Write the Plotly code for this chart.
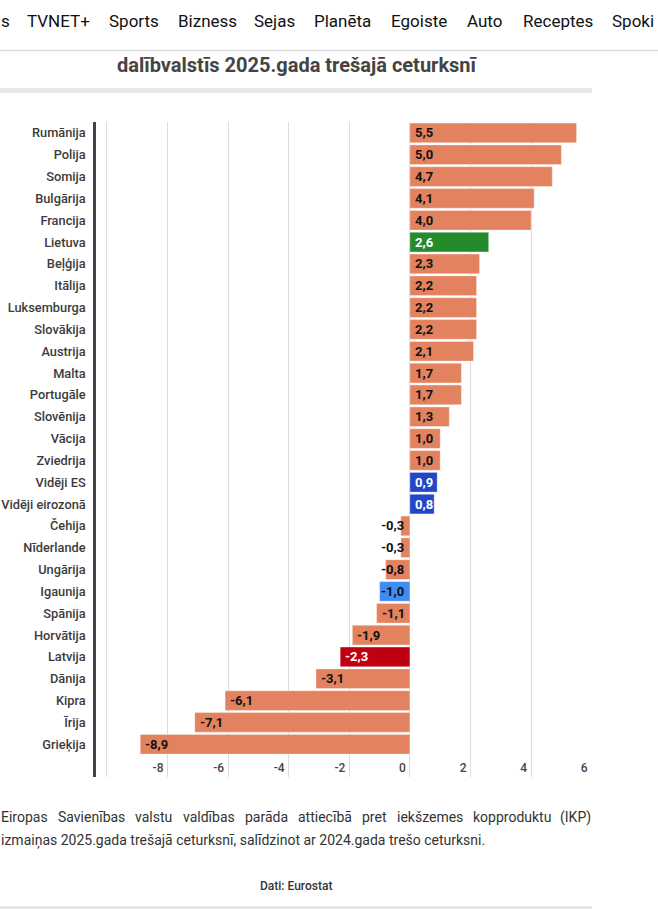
import plotly.graph_objects as go

# ---------------- data ----------------
countries = [
    "Rumānija", "Polija", "Somija", "Bulgārija", "Francija", "Lietuva", "Beļģija",
    "Itālija", "Luksemburga", "Slovākija", "Austrija", "Malta", "Portugāle",
    "Slovēnija", "Vācija", "Zviedrija", "Vidēji ES", "Vidēji eirozonā", "Čehija",
    "Nīderlande", "Ungārija", "Igaunija", "Spānija", "Horvātija", "Latvija",
    "Dānija", "Kipra", "Īrija", "Grieķija",
]
values = [
    5.5, 5.0, 4.7, 4.1, 4.0, 2.6, 2.3,
    2.2, 2.2, 2.2, 2.1, 1.7, 1.7,
    1.3, 1.0, 1.0, 0.9, 0.8, -0.3,
    -0.3, -0.8, -1.0, -1.1, -1.9, -2.3,
    -3.1, -6.1, -7.1, -8.9,
]
x_tick_values = [-10, -8, -6, -4, -2, 0, 2, 4, 6]
x_tick_labels = ["", "-8", "-6", "-4", "-2", "0", "2", "4", "6"]

nav_items = ["s", "TVNET+", "Sports", "Bizness", "Sejas", "Planēta", "Egoiste",
             "Auto", "Receptes", "Spoki"]
title_text = "dalībvalstīs 2025.gada trešajā ceturksnī"
caption_line1 = ("Eiropas Savienības valstu valdības parāda attiecībā pret "
                 "iekšzemes kopproduktu (IKP)")
caption_line2 = ("izmaiņas 2025.gada trešajā ceturksnī, salīdzinot ar "
                 "2024.gada trešo ceturksni.")
source_text = "Dati: Eurostat"

# ---------------- styles / layout ----------------
W, H = 658, 909
ML, MR, MT, MB = 96, 66, 122, 132
PW = W - ML - MR
PH = H - MT - MB
FONT = "Roboto"

BASE = "#E3825F"
highlight = {
    "Lietuva": "#238B2B",
    "Vidēji ES": "#2146C7",
    "Vidēji eirozonā": "#2146C7",
    "Igaunija": "#3F8CF2",
    "Latvija": "#BF0011",
}
white_text = {"Lietuva", "Vidēji ES", "Vidēji eirozonā", "Latvija"}
nav_x = [0, 26, 108, 177, 253, 313, 390, 466, 522, 611]


def px(x):
    return (x - ML) / PW


def py(y):
    return (H - MB - y) / PH


colors = [highlight.get(c, BASE) for c in countries]

fig = go.Figure(
    go.Bar(
        x=values,
        y=countries,
        orientation="h",
        marker=dict(color=colors, line=dict(color="rgba(255,255,255,0.35)", width=1)),
        hoverinfo="skip",
    )
)

# value labels
for c, v in zip(countries, values):
    txt = f"{v:.1f}".replace(".", ",")
    col = "#ffffff" if c in white_text else "#111111"
    if v >= 0:
        x, anchor, shift = 0, "left", 3
    elif v < -1.05:
        x, anchor, shift = v, "left", 3
    else:
        x, anchor, shift = 0, "right", -4
    fig.add_annotation(
        x=x, y=c, text=txt, xanchor=anchor, yanchor="middle", xshift=shift,
        showarrow=False,
        font=dict(family=FONT, size=13, color=col, weight="bold"),
    )

fig.update_xaxes(
    range=[-10.36, 6.01],
    tickvals=x_tick_values,
    ticktext=x_tick_labels,
    showgrid=True,
    gridcolor="#dcdcdc",
    gridwidth=1,
    zeroline=False,
    showline=False,
    ticks="",
    ticklabelposition="inside left",
    ticklabelshift=-4,
    ticklabelstandoff=-3,
    tickfont=dict(family=FONT, size=12, color="#444444", weight=500),
    automargin=False,
    fixedrange=True,
)
fig.update_yaxes(
    type="category",
    autorange=False,
    range=[len(countries) + 0.5, -0.5],
    showgrid=False,
    showline=True,
    linecolor="#444444",
    linewidth=2.5,
    ticks="",
    ticklabelstandoff=5,
    tickfont=dict(family=FONT, size=12.8, color="#3c3c3c", weight=500),
    automargin=False,
    fixedrange=True,
)

# --- page chrome ---
shapes = [
    dict(type="line", xref="paper", yref="paper", x0=px(0), x1=px(W),
         y0=py(50.5), y1=py(50.5), line=dict(color="#dddddd", width=1.5)),
    dict(type="rect", xref="paper", yref="paper", x0=px(0), x1=px(592),
         y0=py(88), y1=py(93), fillcolor="#e8e8e8", line=dict(width=0)),
    dict(type="line", xref="paper", yref="paper", x0=px(0), x1=px(592),
         y0=py(907.5), y1=py(907.5), line=dict(color="#dddddd", width=2)),
]
fig.update_layout(shapes=shapes)

for word, xpos in zip(nav_items, nav_x):
    fig.add_annotation(
        xref="paper", yref="paper", x=px(xpos), y=py(21), text=word,
        xanchor="left", yanchor="middle", showarrow=False, borderpad=0,
        font=dict(family=FONT, size=17, color="#111111"),
    )

fig.add_annotation(
    xref="paper", yref="paper", x=px(297), y=py(65), text=title_text,
    xanchor="center", yanchor="middle", showarrow=False,
    font=dict(family=FONT, size=20, color="#444444", weight="bold"),
)

# justified first caption line (approximate Roboto advance widths, em units)
cw = {
    "E": .552, "i": .243, "r": .338, "o": .570, "p": .561, "a": .544, "s": .516,
    "S": .593, "v": .484, "e": .530, "n": .552, "ī": .243, "b": .561, "ā": .544,
    "l": .243, "t": .327, "u": .551, "d": .564, "c": .523, "k": .507, "š": .516,
    "z": .496, "m": .876, "(": .342, "I": .275, "K": .627, "P": .631, ")": .348,
}
CAP_SIZE = 14
words = caption_line1.split(" ")
wwidths = [sum(cw.get(ch, .55) for ch in w) * CAP_SIZE for w in words]
gap = (592 - sum(wwidths)) / (len(words) - 1)
cur = 0.0
for i, (w, ww) in enumerate(zip(words, wwidths)):
    if i == len(words) - 1:
        fig.add_annotation(
            xref="paper", yref="paper", x=px(592), y=py(817), text=w,
            xanchor="right", yanchor="middle", showarrow=False, borderpad=0,
            font=dict(family=FONT, size=CAP_SIZE, color="#333333"),
        )
    else:
        fig.add_annotation(
            xref="paper", yref="paper", x=px(cur), y=py(817), text=w,
            xanchor="left", yanchor="middle", showarrow=False, borderpad=0,
            font=dict(family=FONT, size=CAP_SIZE, color="#333333"),
        )
    cur += ww + gap

fig.add_annotation(
    xref="paper", yref="paper", x=px(0), y=py(840), text=caption_line2,
    xanchor="left", yanchor="middle", showarrow=False, borderpad=0,
    font=dict(family=FONT, size=CAP_SIZE, color="#333333"),
)
fig.add_annotation(
    xref="paper", yref="paper", x=px(296), y=py(886), text=source_text,
    xanchor="center", yanchor="middle", showarrow=False,
    font=dict(family=FONT, size=12, color="#333333", weight=500),
)

fig.update_layout(
    width=W, height=H, autosize=False,
    margin=dict(l=ML, r=MR, t=MT, b=MB, pad=0, autoexpand=False),
    paper_bgcolor="#ffffff",
    plot_bgcolor="#ffffff",
    bargap=0.1,
    showlegend=False,
)

fig.write_html("out.html", config={"displayModeBar": False})
